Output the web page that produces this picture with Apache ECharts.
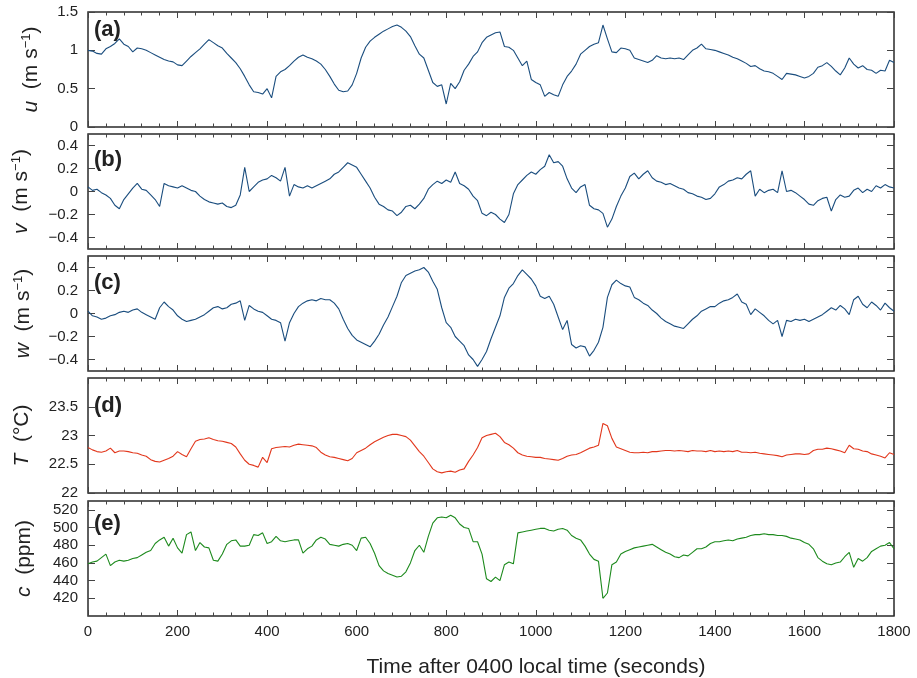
<!DOCTYPE html>
<html><head><meta charset="utf-8">
<script src="https://cdn.jsdelivr.net/npm/echarts@6/dist/echarts.min.js"></script>
<style>html,body{margin:0;padding:0;background:#fff}#c{width:917px;height:678px}</style>
</head><body><div id="c"></div>
<script>
// sampling step of all series (seconds after 0400)
const timeStep = 10;

// (a) u (m s-1)
const uVals = [1.00,0.99,0.96,0.95,1.02,1.05,1.09,1.15,1.08,1.05,0.98,1.03,1.02,1.00,0.97,0.94,0.91,0.88,0.86,0.85,
0.81,0.80,0.86,0.92,0.97,1.02,1.08,1.14,1.10,1.06,1.03,0.96,0.90,0.84,0.76,0.66,0.55,0.46,0.45,0.43,
0.50,0.38,0.66,0.72,0.75,0.80,0.86,0.91,0.94,0.91,0.89,0.86,0.82,0.75,0.66,0.56,0.48,0.46,0.47,0.55,
0.70,0.90,1.04,1.12,1.17,1.21,1.25,1.28,1.31,1.33,1.30,1.25,1.18,1.06,0.95,0.90,0.74,0.58,0.53,0.55,
0.30,0.57,0.50,0.59,0.74,0.82,0.92,0.98,1.10,1.17,1.20,1.23,1.24,1.05,1.04,1.00,0.90,0.80,0.86,0.62,
0.58,0.55,0.40,0.45,0.42,0.40,0.55,0.66,0.73,0.82,0.95,1.00,1.05,1.08,1.10,1.33,1.15,0.98,0.97,1.03,
1.02,1.00,0.90,0.88,0.86,0.84,0.87,0.93,0.90,0.89,0.90,0.89,0.90,0.88,0.94,1.00,1.03,1.08,1.02,1.01,
1.00,0.98,0.96,0.94,0.91,0.89,0.86,0.83,0.79,0.80,0.76,0.73,0.72,0.70,0.66,0.62,0.70,0.69,0.68,0.66,
0.64,0.66,0.70,0.78,0.80,0.84,0.79,0.73,0.68,0.77,0.90,0.82,0.77,0.80,0.75,0.74,0.70,0.74,0.73,0.87,0.84];

// (b) v (m s-1)
const vVals = [0.04,0.01,0.02,-0.01,-0.03,-0.06,-0.12,-0.15,-0.07,-0.02,0.03,0.07,0.02,0.01,-0.03,-0.07,-0.13,0.07,0.05,0.04,
0.03,0.05,0.03,0.01,0.00,-0.04,-0.07,-0.09,-0.10,-0.11,-0.10,-0.13,-0.14,-0.12,-0.03,0.21,0.00,0.04,0.08,0.10,
0.11,0.14,0.12,0.09,0.21,-0.04,0.06,0.04,0.03,0.05,0.03,0.05,0.07,0.09,0.11,0.15,0.17,0.21,0.25,0.23,
0.21,0.15,0.09,0.03,-0.05,-0.11,-0.13,-0.16,-0.17,-0.21,-0.18,-0.13,-0.12,-0.15,-0.11,-0.06,0.02,0.06,0.09,0.07,
0.10,0.08,0.17,0.07,0.05,0.02,-0.04,-0.08,-0.19,-0.21,-0.18,-0.20,-0.24,-0.27,-0.20,-0.02,0.06,0.10,0.14,0.17,
0.15,0.19,0.22,0.32,0.25,0.26,0.22,0.11,0.03,-0.01,0.04,0.06,-0.12,-0.15,-0.16,-0.19,-0.31,-0.24,-0.13,-0.04,
0.03,0.13,0.16,0.11,0.15,0.18,0.12,0.09,0.08,0.06,0.07,0.05,0.03,0.02,-0.01,-0.02,-0.04,-0.05,-0.07,-0.06,
-0.02,0.04,0.06,0.09,0.10,0.12,0.11,0.15,0.18,-0.04,0.02,-0.01,0.01,0.02,-0.01,0.18,0.00,0.01,-0.01,-0.04,
-0.07,-0.11,-0.12,-0.08,-0.06,-0.05,-0.17,-0.07,-0.03,-0.05,-0.04,0.01,0.03,-0.01,0.02,0.00,0.05,0.03,0.06,0.04,0.03];

// (c) w (m s-1)
const wVals = [0.02,-0.02,-0.03,-0.05,-0.04,-0.02,-0.01,0.01,0.02,0.01,0.03,0.04,0.01,-0.01,-0.03,-0.05,0.05,0.10,0.06,0.03,
-0.02,-0.05,-0.07,-0.06,-0.05,-0.03,-0.01,0.02,0.05,0.06,0.04,0.05,0.08,0.09,0.11,-0.06,0.07,0.04,0.02,0.01,
-0.02,-0.05,-0.06,-0.08,-0.24,-0.08,0.00,0.06,0.09,0.11,0.12,0.11,0.13,0.12,0.12,0.09,0.04,-0.05,-0.13,-0.19,
-0.23,-0.25,-0.27,-0.29,-0.24,-0.18,-0.10,-0.03,0.06,0.15,0.27,0.33,0.35,0.37,0.38,0.40,0.36,0.28,0.21,0.05,
-0.08,-0.12,-0.20,-0.24,-0.28,-0.36,-0.40,-0.46,-0.40,-0.33,-0.22,-0.12,-0.02,0.14,0.22,0.26,0.33,0.38,0.34,0.30,
0.24,0.15,0.13,0.15,0.08,-0.03,-0.14,-0.06,-0.27,-0.30,-0.28,-0.29,-0.37,-0.32,-0.25,-0.12,0.14,0.25,0.29,0.26,
0.24,0.23,0.14,0.12,0.09,0.07,0.03,0.00,-0.04,-0.07,-0.09,-0.11,-0.12,-0.13,-0.09,-0.05,-0.02,0.02,0.04,0.06,
0.06,0.09,0.11,0.12,0.14,0.17,0.10,0.08,-0.01,0.04,0.01,-0.02,-0.06,-0.09,-0.06,-0.20,-0.06,-0.07,-0.05,-0.06,
-0.05,-0.07,-0.05,-0.03,-0.01,0.02,0.05,0.03,0.07,0.04,-0.01,0.12,0.15,0.08,0.05,0.10,0.07,0.03,0.09,0.05,0.02];

// (d) T (deg C)
const tempVals = [22.79,22.75,22.72,22.71,22.73,22.78,22.70,22.73,22.73,22.72,22.70,22.69,22.66,22.64,22.58,22.55,22.54,22.57,22.60,22.64,
22.72,22.67,22.63,22.77,22.90,22.93,22.94,22.96,22.93,22.91,22.90,22.88,22.86,22.80,22.68,22.57,22.50,22.48,22.45,22.62,
22.53,22.77,22.79,22.80,22.81,22.80,22.83,22.85,22.84,22.83,22.82,22.79,22.71,22.66,22.63,22.62,22.60,22.58,22.56,22.60,
22.70,22.74,22.78,22.84,22.89,22.93,22.97,23.00,23.02,23.02,23.00,22.98,22.92,22.82,22.72,22.64,22.53,22.42,22.37,22.35,
22.37,22.38,22.36,22.40,22.42,22.55,22.66,22.79,22.96,23.00,23.02,23.04,22.98,22.88,22.84,22.78,22.70,22.66,22.64,22.63,
22.62,22.62,22.60,22.59,22.58,22.57,22.60,22.64,22.66,22.67,22.70,22.74,22.78,22.80,22.83,23.21,23.17,22.95,22.80,22.77,
22.74,22.71,22.70,22.70,22.71,22.70,22.72,22.72,22.73,22.74,22.74,22.73,22.74,22.73,22.72,22.74,22.73,22.73,22.72,22.74,
22.72,22.73,22.72,22.73,22.72,22.74,22.71,22.71,22.70,22.71,22.69,22.68,22.67,22.66,22.65,22.63,22.66,22.67,22.68,22.68,
22.67,22.68,22.74,22.76,22.76,22.78,22.77,22.75,22.73,22.70,22.83,22.77,22.76,22.73,22.72,22.68,22.66,22.64,22.61,22.70,22.67];

// (e) c (ppm)
const co2Vals = [459,461,462,466,470,457,461,463,462,463,465,466,469,472,474,482,486,489,479,488,
477,471,492,495,474,483,478,477,463,462,470,481,485,486,479,479,480,492,491,494,
482,484,490,485,484,485,486,486,471,476,479,486,489,487,481,480,479,481,482,480,
474,488,489,482,471,457,451,448,446,444,445,450,460,474,480,472,490,505,511,512,
511,514,511,504,500,499,484,484,470,442,439,444,440,458,461,459,494,495,496,497,
498,499,499,497,496,498,499,497,491,488,486,479,470,464,462,420,426,458,461,470,
473,475,477,478,479,480,481,478,475,472,470,467,466,469,468,472,476,476,478,482,
484,484,485,486,485,487,488,489,491,492,492,493,492,492,491,491,490,488,487,486,
483,481,476,466,462,459,458,460,461,467,472,455,465,462,466,473,476,479,480,483,476];

// tick labels
const xTickLabels = [0,200,400,600,800,1000,1200,1400,1600,1800];
const uTicks = [0,0.5,1,1.5];
const vTicks = [-0.4,-0.2,0,0.2,0.4];
const wTicks = [-0.4,-0.2,0,0.2,0.4];
const tempTicks = [22,22.5,23,23.5];
const co2Ticks = [420,440,460,480,500,520];
const panelLetters = ['(a)','(b)','(c)','(d)','(e)'];
const xTitle = 'Time after 0400 local time (seconds)';

const FONT = '"Liberation Sans", Arial, Helvetica, sans-serif';
const blue = '#1a4d7e', red = '#e2371c', green = '#1d8a1d';

const panels = [
  {vals:uVals, ticks:uTicks, min:0, max:1.5, color:blue, name:'{i|u}  (m s{s|−1})', gap:45},
  {vals:vVals, ticks:vTicks, min:-0.5, max:0.5, color:blue, name:'{i|v}  (m s{s|−1})', gap:55},
  {vals:wVals, ticks:wTicks, min:-0.5, max:0.5, color:blue, name:'{i|w}  (m s{s|−1})', gap:53},
  {vals:tempVals, ticks:tempTicks, min:22, max:24, color:red, name:'{i|T}  (°C)', gap:55},
  {vals:co2Vals, ticks:co2Ticks, min:400, max:530, color:green, name:'{i|c}  (ppm)', gap:53}
];
const tops = [12,134,256,378,501];
const letterTops = [14,144,267,390,508];
const H = 115;

const fmt = v => String(+(+v).toFixed(2)).replace('-', '−');

const grid=[], xAxis=[], yAxis=[], series=[], title=[];
const tickStyle = {color:'#444', width:1};
panels.forEach((p,i)=>{
  grid.push({left:88, right:23, top:tops[i], height:H, show:true, borderColor:'#2a2a2a', borderWidth:1.5, backgroundColor:'transparent'});
  const xBase = {
    type:'value', gridIndex:i, min:0, max:1800, interval:200,
    axisLine:{show:false, onZero:false}, splitLine:{show:false},
    axisTick:{show:true, inside:true, length:6, lineStyle:tickStyle},
    minorTick:{show:true, splitNumber:5, length:3.5, lineStyle:tickStyle},
    minorSplitLine:{show:false}
  };
  xAxis.push(Object.assign({}, xBase, {position:'bottom',
    axisLabel:{show:i===4, color:'#222', fontSize:15, fontFamily:FONT, margin:8,
      customValues:xTickLabels, formatter:v=>String(v)}}));
  xAxis.push(Object.assign({}, xBase, {position:'top', axisLabel:{show:false}}));
  const yBase = {
    type:'value', gridIndex:i, min:p.min, max:p.max,
    axisLine:{show:false, onZero:false}, splitLine:{show:false},
    axisTick:{show:true, inside:true, length:7, lineStyle:tickStyle, customValues:p.ticks}
  };
  yAxis.push(Object.assign({}, yBase, {position:'left',
    axisLabel:{show:true, color:'#222', fontSize:15, fontFamily:FONT, margin:10, customValues:p.ticks, formatter:fmt},
    name:p.name, nameLocation:'middle', nameGap:p.gap,
    nameTextStyle:{fontSize:21, fontFamily:FONT, color:'#222',
      rich:{i:{fontStyle:'italic', fontSize:21, fontFamily:FONT, color:'#222'},
            s:{fontSize:13, fontFamily:FONT, color:'#222', verticalAlign:'top', padding:[0,0,10,0]}}}
  }));
  yAxis.push(Object.assign({}, yBase, {position:'right', axisLabel:{show:false}}));
  series.push({
    type:'line', xAxisIndex:2*i, yAxisIndex:2*i, showSymbol:false, symbol:'none',
    lineStyle:{color:p.color, width:1.1}, clip:true,
    data:p.vals.map((v,k)=>[k*timeStep, v])
  });
  title.push({text:panelLetters[i], left:89, top:letterTops[i],
    textStyle:{fontSize:22, fontWeight:'bold', fontFamily:FONT, color:'#222'}});
});
title.push({text:xTitle, left:531, top:652, textAlign:'center',
  textStyle:{fontSize:21, fontWeight:'normal', fontFamily:FONT, color:'#222'}});

const chart = echarts.init(document.getElementById('c'), null, {renderer:'canvas'});
chart.setOption({animation:false, backgroundColor:'#fff', title, grid, xAxis, yAxis, series});
</script></body></html>
